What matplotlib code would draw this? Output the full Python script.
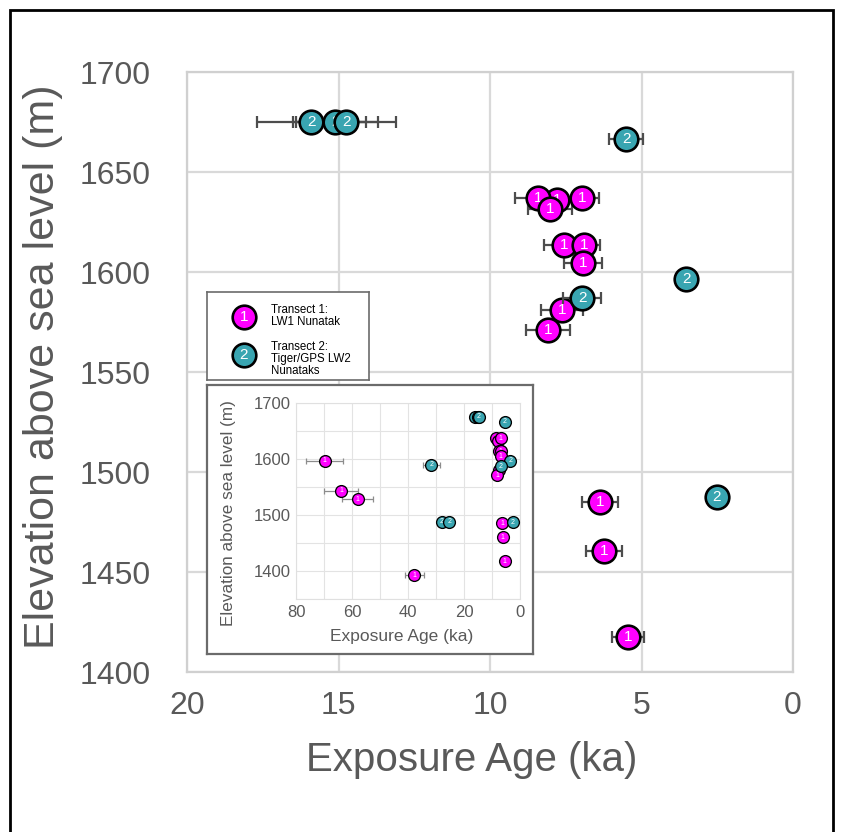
import matplotlib
matplotlib.use("Agg")
import matplotlib.pyplot as plt
from matplotlib.patches import Rectangle

# Transect 1 (LW1 Nunatak): exposure age (ka), elevation (m), 1-sigma error (ka)
t1_age = [7.79, 8.42, 8.02, 6.96, 7.56, 6.90, 6.93, 7.62, 8.09, 6.37, 6.24, 5.45,
          69.8, 63.9, 57.9, 37.7]
t1_elev = [1636, 1637, 1631.5, 1637, 1613.5, 1613.5, 1604.5, 1581, 1571, 1485, 1460.5, 1417.5,
           1597, 1543, 1528, 1392]
t1_err = [0.6, 0.76, 0.72, 0.56, 0.66, 0.53, 0.63, 0.7, 0.73, 0.6, 0.58, 0.53,
          6.5, 6.0, 5.5, 3.5]

# Transect 2 (Tiger/GPS LW2 Nunataks)
t2_age = [15.9, 15.1, 14.75, 5.51, 3.53, 6.96, 2.51, 31.7, 27.9, 25.3]
t2_elev = [1675, 1675, 1675, 1666.5, 1596.5, 1587, 1487.5, 1590, 1488, 1488]
t2_err = [1.8, 1.4, 1.65, 0.56, 0.2, 0.63, 0.2, 3.0, 1.8, 1.8]

main_xticks = [20, 15, 10, 5, 0]
main_yticks = [1400, 1450, 1500, 1550, 1600, 1650, 1700]
inset_xticks = [80, 60, 40, 20, 0]
inset_yticks = [1400, 1500, 1600, 1700]

MAGENTA = "#FF00FF"
TEAL = "#39A5B1"
TXT = "#595959"
GRID = "#D9D9D9"
FONT = "Liberation Sans"

W, H = 843, 832
fig = plt.figure(figsize=(W / 100, H / 100), dpi=100)


def px_rect(x0, y0, x1, y1):
    return [x0 / W, 1 - y1 / H, (x1 - x0) / W, (y1 - y0) / H]


def draw_series(ax, ages, elevs, errs, color, label, ms, fs, ecol, cap, elw, z0, xmax, ymin):
    ax.errorbar(ages, elevs, xerr=errs, fmt="none", ecolor=ecol, capsize=cap,
                elinewidth=elw, capthick=elw, zorder=z0)
    for i, (a, e) in enumerate(zip(ages, elevs)):
        ax.plot(a, e, "o", ms=ms, mfc=color, mec="black", mew=ms / 9,
                zorder=z0 + 1 + 2 * i)
        if a <= xmax and e >= ymin:
            ax.text(a, e, label, color="white", fontsize=fs, ha="center", va="center",
                    family=FONT, zorder=z0 + 2 + 2 * i, clip_on=True)


# outer black frame
fig.patches.append(Rectangle((10 / W, -0.02), 823 / W, 1 - 10 / H + 0.02,
                             transform=fig.transFigure, fill=False, lw=2, ec="black"))

# main axes
ax = fig.add_axes(px_rect(187, 72, 793, 672))
draw_series(ax, t1_age, t1_elev, t1_err, MAGENTA, "1", 17, 11, "#4D4D4D", 4.5, 1.6, 3, 20, 1400)
draw_series(ax, t2_age, t2_elev, t2_err, TEAL, "2", 17, 11, "#4D4D4D", 4.5, 1.6, 40, 20, 1400)
ax.set_xlim(20, 0)
ax.set_ylim(1400, 1700)
ax.set_xticks(main_xticks)
ax.set_yticks(main_yticks)
ax.grid(True, color=GRID, lw=1.6)
ax.set_axisbelow(True)
for s in ax.spines.values():
    s.set_color("#D0D0D0")
    s.set_linewidth(1.6)
ax.tick_params(length=0, colors=TXT, labelsize=23)
ax.tick_params(axis="x", pad=14)
ax.tick_params(axis="y", pad=26)
for lab in ax.get_xticklabels() + ax.get_yticklabels():
    lab.set_family(FONT)
ax.set_xlabel("Exposure Age (ka)", fontsize=29, color=TXT, family=FONT)
ax.set_ylabel("Elevation above sea level (m)", fontsize=31, color=TXT, family=FONT)
ax.xaxis.set_label_coords((472 - 187) / 606, -(760 - 672) / 600)
ax.xaxis.label.set_va("center")
ax.yaxis.set_label_coords((43 - 187) / 606, (672 - 367) / 600)
ax.yaxis.label.set_va("center")

# legend box
lg = fig.add_axes(px_rect(207, 292, 369, 380))
lg.set_xlim(0, 162)
lg.set_ylim(88, 0)
lg.set_xticks([])
lg.set_yticks([])
for s in lg.spines.values():
    s.set_color("#6B6B6B")
    s.set_linewidth(1.2)
lg.plot(37, 25, "o", ms=17, mfc=MAGENTA, mec="black", mew=1.9)
lg.text(37, 25, "1", color="white", fontsize=11, ha="center", va="center", family=FONT)
lg.plot(37, 63, "o", ms=17, mfc=TEAL, mec="black", mew=1.9)
lg.text(37, 63, "2", color="white", fontsize=11, ha="center", va="center", family=FONT)
lg.text(64, 24, "Transect 1:\nLW1 Nunatak", fontsize=8.3, va="center", family=FONT,
        linespacing=1.05)
lg.text(64, 67, "Transect 2:\nTiger/GPS LW2\nNunataks", fontsize=8.3, va="center",
        family=FONT, linespacing=1.05)

# inset frame
box = fig.add_axes(px_rect(207, 385, 533, 654))
box.set_xticks([])
box.set_yticks([])
for s in box.spines.values():
    s.set_color("#6B6B6B")
    s.set_linewidth(1.6)

# inset axes with all ages
ins = fig.add_axes(px_rect(296, 403, 520, 599))
draw_series(ins, t1_age, t1_elev, t1_err, MAGENTA, "1", 8.5, 5, "#8C8C8C", 2, 0.9, 3, 80, 1350)
draw_series(ins, t2_age, t2_elev, t2_err, TEAL, "2", 8.5, 5, "#8C8C8C", 2, 0.9, 40, 80, 1350)
ins.set_xlim(80, 0)
ins.set_ylim(1350, 1700)
ins.set_xticks(inset_xticks)
ins.set_yticks(inset_yticks)
ins.set_xticks(range(0, 81, 10), minor=True)
ins.set_yticks(range(1350, 1701, 50), minor=True)
ins.grid(True, which="both", color="#E3E3E3", lw=0.8)
ins.set_axisbelow(True)
for s in ins.spines.values():
    s.set_color("#E0E0E0")
ins.tick_params(which="both", length=0, colors=TXT, labelsize=12, pad=4)
for lab in ins.get_xticklabels() + ins.get_yticklabels():
    lab.set_family(FONT)
ins.set_xlabel("Exposure Age (ka)", fontsize=12.5, color=TXT, family=FONT)
ins.set_ylabel("Elevation above sea level (m)", fontsize=12.3, color=TXT, family=FONT)
ins.xaxis.set_label_coords((402 - 296) / 224, -(637 - 599) / 196)
ins.xaxis.label.set_va("center")
ins.yaxis.set_label_coords((228 - 296) / 224, (599 - 513) / 196)
ins.yaxis.label.set_va("center")

fig.savefig("out.png", dpi=100)
